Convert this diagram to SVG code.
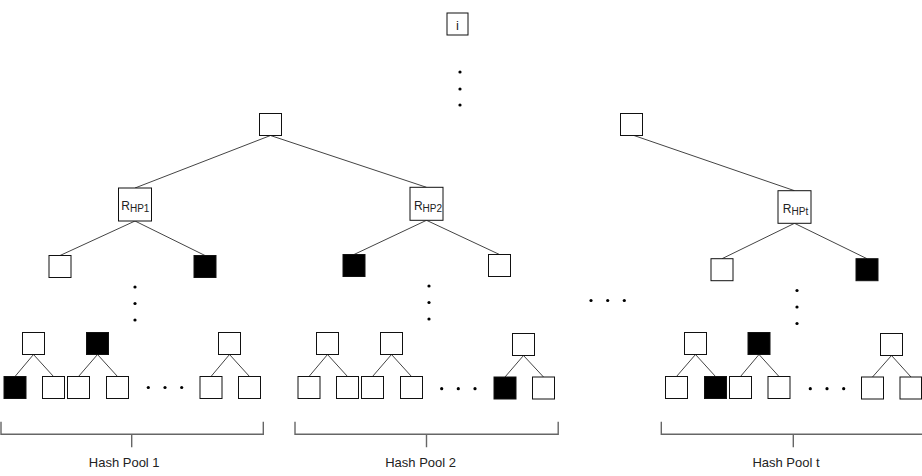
<svg xmlns="http://www.w3.org/2000/svg" width="922" height="476" viewBox="0 0 922 476">
<style>
.n{fill:#fff;stroke:#111;stroke-width:1}
.b{fill:#000;stroke:#111;stroke-width:1}
.e{stroke:#444;stroke-width:1;fill:none}
.br{stroke:#666;stroke-width:1.4;fill:none}
.d{fill:#000}
.t{font-family:"Liberation Sans",Arial,sans-serif;fill:#222}
</style>
<rect width="922" height="476" fill="#fff"/>
<g id="connectors">
<path class="e" d="M270.5,135.5L135,188M270.5,135.5L426.5,187.3M634,135.5L794.5,190.7"/>
<path class="e" d="M135,221L60,255.5M135,221L205,255.5"/>
<path class="e" d="M426.5,220.3L354,254.5M426.5,220.3L499.5,254.5"/>
<path class="e" d="M794.5,223.3L722,258.7M794.5,223.3L867,258.7"/>
<path class="e" d="M33.5,354.5L15,376.5M33.5,354.5L53.5,376.5M97.5,354.5L78.5,376.5M97.5,354.5L117.5,376.5M229.5,354.5L211,376.5M229.5,354.5L249.5,376.5"/>
<path class="e" d="M327.5,354.5L309,376.5M327.5,354.5L347.5,376.5M391.5,354.5L372.5,376.5M391.5,354.5L411.5,376.5M523.5,355.5L505,377M523.5,355.5L543.5,377"/>
<path class="e" d="M695.5,354.5L676.5,376.5M695.5,354.5L715.5,376.5M759,354.5L740.5,376.5M759,354.5L779,376.5M891.5,355.5L872.5,377M891.5,355.5L911,377"/>
</g>
<g id="node-i"><rect class="n" x="447" y="13" width="21" height="22"/><text class="t" x="457.5" y="30" font-size="13" text-anchor="middle">i</text></g>
<g id="node-top1"><rect class="n" x="259.5" y="113.5" width="22" height="22"/></g>
<g id="node-top2"><rect class="n" x="620.5" y="113.5" width="22" height="22"/></g>
<g id="node-rhp1"><rect class="n" x="118.5" y="188" width="33" height="33"/><text class="t" x="135.3" y="210" font-size="12" text-anchor="middle">R<tspan font-size="10" dy="2">HP1</tspan></text></g>
<g id="node-rhp2"><rect class="n" x="410" y="187.3" width="33" height="33"/><text class="t" x="428" y="210" font-size="12" text-anchor="middle">R<tspan font-size="10" dy="2">HP2</tspan></text></g>
<g id="node-rhpt"><rect class="n" x="778" y="190.7" width="33" height="32.6"/><text class="t" x="795.5" y="213" font-size="12" text-anchor="middle">R<tspan font-size="10" dy="1.5">HPt</tspan></text></g>
<g id="node-r1l"><rect class="n" x="49" y="255.5" width="22" height="22"/></g>
<g id="node-r1r"><rect class="b" x="194" y="255.5" width="22" height="22"/></g>
<g id="node-r2l"><rect class="b" x="343" y="254.5" width="22" height="22"/></g>
<g id="node-r2r"><rect class="n" x="488.5" y="254.5" width="22" height="22"/></g>
<g id="node-rtl"><rect class="n" x="711" y="258.7" width="22" height="22"/></g>
<g id="node-rtr"><rect class="b" x="856" y="258.7" width="22" height="22"/></g>
<g id="pool1-nodes">
<rect class="n" x="22.5" y="332.5" width="22" height="22"/>
<rect class="b" x="86.5" y="332.5" width="22" height="22"/>
<rect class="n" x="218.5" y="332.5" width="22" height="22"/>
<rect class="b" x="4" y="376.5" width="22" height="22"/>
<rect class="n" x="42.5" y="376.5" width="22" height="22"/>
<rect class="n" x="67.5" y="376.5" width="22" height="22"/>
<rect class="n" x="106.5" y="376.5" width="22" height="22"/>
<rect class="n" x="200" y="376.5" width="22" height="22"/>
<rect class="n" x="238.5" y="376.5" width="22" height="22"/>
</g>
<g id="pool2-nodes">
<rect class="n" x="316.5" y="332.5" width="22" height="22"/>
<rect class="n" x="380.5" y="332.5" width="22" height="22"/>
<rect class="n" x="512.5" y="333.5" width="22" height="22"/>
<rect class="n" x="298" y="376.5" width="22" height="22"/>
<rect class="n" x="336.5" y="376.5" width="22" height="22"/>
<rect class="n" x="361.5" y="376.5" width="22" height="22"/>
<rect class="n" x="400.5" y="376.5" width="22" height="22"/>
<rect class="b" x="494" y="377" width="22" height="22"/>
<rect class="n" x="532.5" y="377" width="22" height="22"/>
</g>
<g id="poolt-nodes">
<rect class="n" x="684.5" y="332.5" width="22" height="22"/>
<rect class="b" x="748" y="332.5" width="22" height="22"/>
<rect class="n" x="880.5" y="333.5" width="22" height="22"/>
<rect class="n" x="665.5" y="376.5" width="22" height="22"/>
<rect class="b" x="704.5" y="376.5" width="22" height="22"/>
<rect class="n" x="729.5" y="376.5" width="22" height="22"/>
<rect class="n" x="768" y="376.5" width="22" height="22"/>
<rect class="n" x="861.5" y="377" width="22" height="22"/>
<rect class="n" x="900" y="377" width="21.5" height="22"/>
</g>
<g id="dots">
<circle class="d" cx="460" cy="72" r="1.6"/><circle class="d" cx="460" cy="89" r="1.6"/><circle class="d" cx="460" cy="105" r="1.6"/>
<circle class="d" cx="135" cy="287" r="1.6"/><circle class="d" cx="135" cy="303.5" r="1.6"/><circle class="d" cx="135" cy="320" r="1.6"/>
<circle class="d" cx="429" cy="286" r="1.6"/><circle class="d" cx="429" cy="302.5" r="1.6"/><circle class="d" cx="429" cy="319" r="1.6"/>
<circle class="d" cx="797" cy="290.5" r="1.6"/><circle class="d" cx="797" cy="307" r="1.6"/><circle class="d" cx="797" cy="323.5" r="1.6"/>
<circle class="d" cx="591" cy="300.5" r="1.6"/><circle class="d" cx="607.7" cy="300.5" r="1.6"/><circle class="d" cx="624.3" cy="300.5" r="1.6"/>
<circle class="d" cx="148.3" cy="387.5" r="1.6"/><circle class="d" cx="165" cy="387.5" r="1.6"/><circle class="d" cx="181.7" cy="387.5" r="1.6"/>
<circle class="d" cx="441.7" cy="388.7" r="1.6"/><circle class="d" cx="458.3" cy="388.7" r="1.6"/><circle class="d" cx="475" cy="388.7" r="1.6"/>
<circle class="d" cx="810.3" cy="388.7" r="1.6"/><circle class="d" cx="827" cy="388.7" r="1.6"/><circle class="d" cx="843.7" cy="388.7" r="1.6"/>
</g>
<g id="brace-pool1"><path class="br" d="M1,421.7V434.3H263.3V421.7M131.7,434.3V447.3"/><text class="t" x="124.2" y="467" font-size="13" text-anchor="middle">Hash Pool 1</text></g>
<g id="brace-pool2"><path class="br" d="M295,421.7V434.3H558.2V421.7M426.5,434.3V447.3"/><text class="t" x="420.6" y="467" font-size="13" text-anchor="middle">Hash Pool 2</text></g>
<g id="brace-poolt"><path class="br" d="M661.3,421.7V434.3H926V421.7M793.3,434.3V447.3"/><text class="t" x="786" y="467" font-size="13" text-anchor="middle">Hash Pool t</text></g>
</svg>
